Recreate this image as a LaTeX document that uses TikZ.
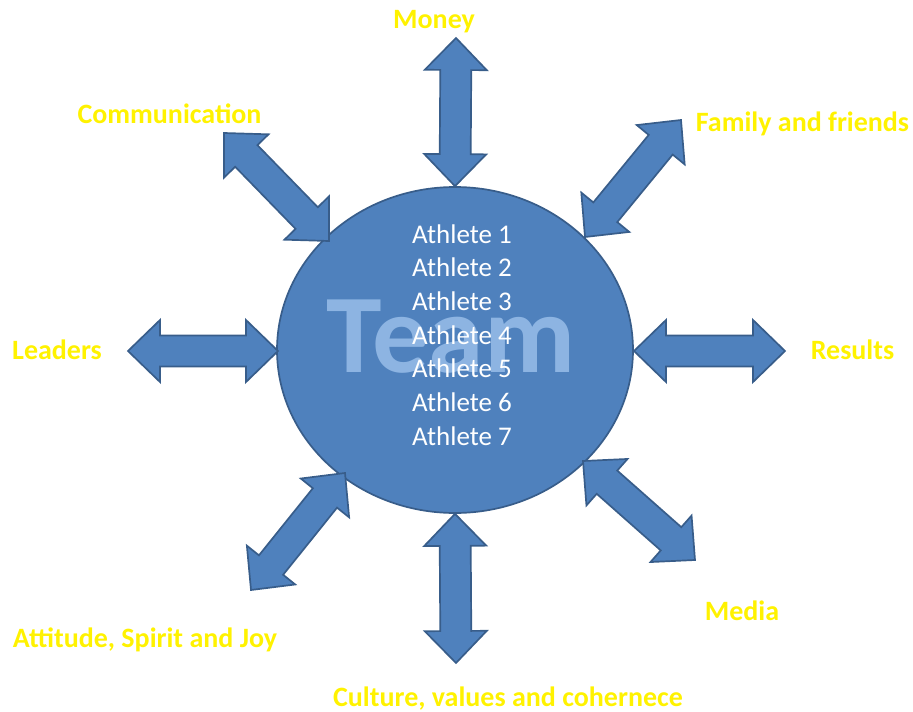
\documentclass[tikz,border=0pt]{standalone}
\usepackage{fontspec}
\setmainfont{Carlito}
\usepackage{tikz}
\usetikzlibrary{calc,shapes.geometric}

\definecolor{teamblue}{RGB}{79,129,189}
\definecolor{teamedge}{RGB}{56,93,138}
\definecolor{teamword}{RGB}{141,180,226}

% fat two-headed arrow from tip #1 to tip #2
\newcommand{\dblarrow}[2]{%
  \draw[bothway] (#1) -- ($(#1)!44.55pt!44.1:(#2)$) -- ($(#1)!35.56pt!25.85:(#2)$)
    -- ($(#2)!35.56pt!-25.85:(#1)$) -- ($(#2)!44.55pt!-44.1:(#1)$) -- (#2)
    -- ($(#2)!44.55pt!44.1:(#1)$) -- ($(#2)!35.56pt!25.85:(#1)$)
    -- ($(#1)!35.56pt!-25.85:(#2)$) -- ($(#1)!44.55pt!-44.1:(#2)$) -- cycle;}

\begin{document}
\begin{tikzpicture}[x=1pt,y=-1pt,
                bothway/.style={fill=teamblue,draw=teamedge,line width=1.7pt,line join=miter},
                member/.style={text=white,font=\fontsize{27}{33.7}\selectfont,anchor=base},
                outer/.style={text=yellow,font=\bfseries\fontsize{28}{30}\selectfont,anchor=base}]
  \useasboundingbox (0,0) rectangle (913,712);

  \node[ellipse,fill=teamblue,draw=teamedge,line width=1.7pt,
        minimum width=356pt,minimum height=326pt,inner sep=0pt] (team) at (455,350) {};
  \node[text=teamword,font=\bfseries\fontsize{112}{112}\selectfont,anchor=base] (word) at (451,372) {Team};
  \node[member] (ath1) at (462,243) {Athlete 1};
  \node[member] (ath2) at (462,276.7) {Athlete 2};
  \node[member] (ath3) at (462,310.3) {Athlete 3};
  \node[member] (ath4) at (462,344) {Athlete 4};
  \node[member] (ath5) at (462,377.7) {Athlete 5};
  \node[member] (ath6) at (462,411.3) {Athlete 6};
  \node[member] (ath7) at (462,445) {Athlete 7};

  % arrow tips
  \coordinate (mon out) at (456,38);   \coordinate (mon in) at (team.north);
  \coordinate (com out) at (224,133);  \coordinate (com in) at (329,241);
  \coordinate (fam out) at (681,120);  \coordinate (fam in) at (585,237);
  \coordinate (lea out) at (128,351);  \coordinate (lea in) at (278,351);
  \coordinate (res out) at (785,351);  \coordinate (res in) at (634,351);
  \coordinate (att out) at (251,590);  \coordinate (att in) at (345,473);
  \coordinate (cul out) at (456,663);  \coordinate (cul in) at (team.south);
  \coordinate (med out) at (695,560);  \coordinate (med in) at (583,461);

  \dblarrow{mon out}{mon in}
  \dblarrow{com out}{com in}
  \dblarrow{fam out}{fam in}
  \dblarrow{lea out}{lea in}
  \dblarrow{res out}{res in}
  \dblarrow{att out}{att in}
  \dblarrow{cul out}{cul in}
  \dblarrow{med out}{med in}

  \node[outer] (money) at (434,28) {Money};
  \node[outer] (comm) at (169.5,123) {Communication};
  \node[outer] (family) at (802.5,131) {Family and friends};
  \node[outer] (leaders) at (57,359) {Leaders};
  \node[outer] (results) at (852.5,359) {Results};
  \node[outer] (attitude) at (145,647) {Attitude, Spirit and Joy};
  \node[outer] (media) at (742,620) {Media};
  \node[outer] (culture) at (508,706) {Culture, values and cohernece};
\end{tikzpicture}
\end{document}
